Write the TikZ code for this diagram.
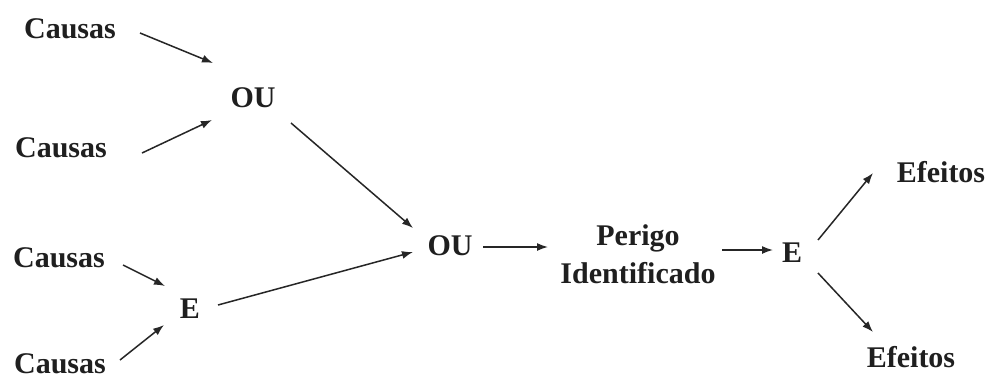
\documentclass[tikz,border=0pt]{standalone}
\usepackage{fontspec}
\setmainfont{Liberation Serif}
\usetikzlibrary{arrows.meta,calc}
\begin{document}
\begin{tikzpicture}[x=1pt,y=-1pt,
  lbl/.style={inner sep=0pt,anchor=base,font=\fontsize{30}{38}\selectfont\bfseries,text=black!88},
  arr/.style={line width=1.5pt,draw=black!85,-{Latex[length=11pt,width=8pt]}}]
\useasboundingbox[fill=white] (0,0) rectangle (989,378);
\node[lbl] (c1) at (70,38) {Causas};
\node[lbl] (c2) at (61,157) {Causas};
\node[lbl] (c3) at (59,267) {Causas};
\node[lbl] (c4) at (60,373) {Causas};
\node[lbl] (ou1) at (253,107) {OU};
\node[lbl] (e1) at (190,318) {E};
\node[lbl] (ou2) at (450,255) {OU};
\node[lbl,anchor=center,align=center] (per) at (638,254) {Perigo\\Identificado};
\node[lbl] (e2) at (792,262) {E};
\node[lbl] (ef1) at (941,182) {Efeitos};
\node[lbl] (ef2) at (911,367) {Efeitos};
\draw[arr] ($(c1.base)+(70,-5)$) -- ($(ou1.base)+(-40,-44)$);
\draw[arr] ($(c2.base)+(81,-4)$) -- ($(ou1.base)+(-41,13)$);
\draw[arr] ($(ou1.base)+(38,16)$) -- ($(ou2.base)+(-37,-27)$);
\draw[arr] ($(e1.base)+(28,-13)$) -- ($(ou2.base)+(-37,-3)$);
\draw[arr] ($(ou2.base)+(33,-8)$) -- ($(per.center)+(-90,-7)$);
\draw[arr] ($(c3.base)+(64,-2)$) -- ($(e1.base)+(-25,-32)$);
\draw[arr] ($(c4.base)+(60,-13)$) -- ($(e1.base)+(-26,7)$);
\draw[arr] ($(per.center)+(84,-4)$) -- ($(e2.base)+(-19,-12)$);
\draw[arr] ($(e2.base)+(26,-22)$) -- ($(ef1.base)+(-68,-9)$);
\draw[arr] ($(e2.base)+(26,11)$) -- ($(ef2.base)+(-38,-35)$);
\end{tikzpicture}
\end{document}
